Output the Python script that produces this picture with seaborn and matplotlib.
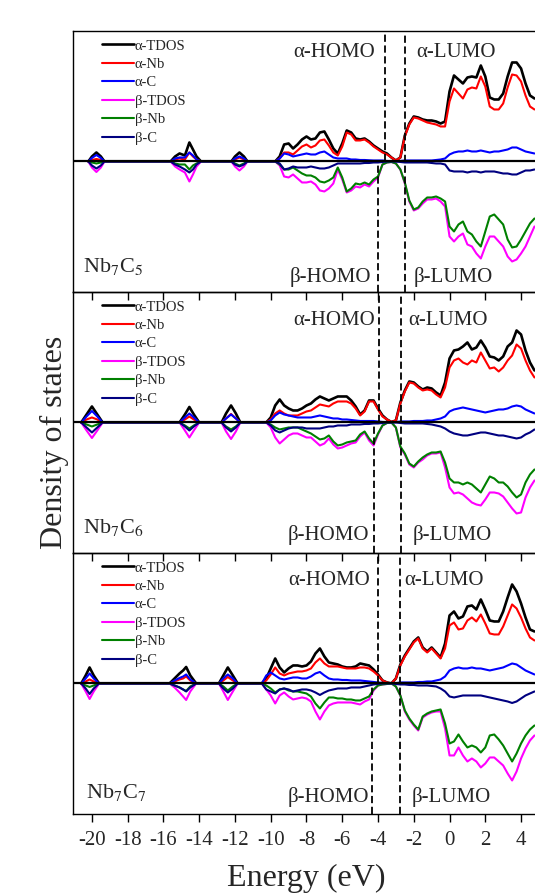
import numpy as np
import pandas as pd
import matplotlib
matplotlib.use("Agg")
import matplotlib.pyplot as plt
import seaborn as sns

# energy grid of the valence/conduction band (eV), the same for the three systems
band_e = np.linspace(-10.5, 4.75, 62)

# energies of the isolated low-lying peaks, one list per system
peak_e1 = [-20.2, -20.0, -19.75, -19.5, -19.3,
           -15.6, -15.35, -15.1, -14.8, -14.55, -14.35, -14.15, -13.9,
           -12.2, -12.0, -11.75, -11.5, -11.3]
peak_e2 = [-20.6, -20.3, -20.0, -19.7, -19.4,
           -15.1, -14.8, -14.55, -14.3, -14.0,
           -12.75, -12.5, -12.22, -11.95, -11.7]
peak_e3 = [-20.6, -20.35, -20.13, -19.9, -19.6,
           -15.66, -15.38, -15.1, -14.9, -14.73, -14.5, -14.17,
           -12.9, -12.65, -12.4, -12.12, -11.85]

# ---- Nb7C5 ----
a_tdos_1 = [0, 5, 9, 5, 0, 0, 5, 8, 6, 19, 12, 5, 0, 0, 5, 9, 5, 0,
            0, 0, 0, 0, 5, 17, 18, 13, 17, 22,
            25, 22, 23, 29, 30, 22, 13, 8, 18, 31,
            29, 23, 22, 23, 20, 16, 13, 10, 8, 4,
            1, 4, 26, 38, 45, 44, 42, 41, 41, 40,
            38, 40, 70, 86, 82, 78, 84, 85, 84, 96,
            85, 64, 62, 62, 68, 85, 99, 99, 93, 78,
            66, 63]
a_nb_1 = [0, 1.5, 2.5, 1.5, 0, 0, 2, 3, 2, 9, 5, 2, 0, 0, 2, 4, 2, 0,
          0, 0, 0, 0, 3, 9, 9, 7, 11, 15,
          17, 14, 16, 21, 22, 16, 9, 6, 15, 29,
          27, 21, 21, 22, 19, 15, 12, 9, 7, 4,
          1, 4, 25, 37, 44, 43, 41, 39, 38, 37,
          35, 35, 60, 73, 68, 63, 72, 74, 73, 85,
          75, 55, 52, 52, 58, 74, 87, 86, 80, 66,
          55, 52]
a_c_1 = [0, 3.5, 6.5, 3.5, 0, 0, 3, 4, 4, 9, 6, 2, 0, 0, 3, 5, 3, 0,
         0, 0, 0, 0, 3, 8, 7, 5, 6, 7,
         8, 7, 7, 9, 10, 7, 4, 3, 3, 3,
         2, 2, 1.5, 1.5, 1.2, 1, 1, 1, 0.5, 0.3,
         0, 0.5, 1, 1, 1, 1, 1, 1, 1, 1.5,
         2, 3, 7, 9, 10, 10, 11, 10, 10, 11,
         10, 9, 10, 10, 11, 12, 14, 14, 12, 10,
         9, 8]
b_tdos_1 = [0, -6, -10.5, -6, 0, 0, -5, -8, -11, -20, -13, -5, 0, 0, -5, -9, -5, 0,
            0, 0, 0, 0, -4, -15, -16, -13, -17, -21,
            -21, -20, -23, -29, -30, -27, -22, -8, -18, -31,
            -29, -25, -26, -23, -25, -20, -16, -3, -1, -0.5,
            -2, -8, -22, -40, -49, -47, -42, -38, -38, -37,
            -40, -45, -75, -80, -75, -72, -83, -85, -92, -97,
            -85, -75, -75, -80, -85, -95, -100, -98, -92, -85,
            -75, -65]
b_nb_1 = [0, -1, -2, -1, 0, 0, -2, -3, -3, -8, -4, -2, 0, 0, -2, -4, -2, 0,
          0, 0, 0, 0, -3, -8, -8, -6, -9, -12,
          -14, -14, -16, -20, -21, -19, -16, -6, -16, -30,
          -27, -22, -23, -21, -23, -18, -15, -3, -1, -0.5,
          -2, -8, -21, -39, -48, -46, -40, -36, -36, -35,
          -37, -40, -65, -70, -63, -60, -70, -73, -80, -85,
          -70, -55, -53, -58, -63, -78, -86, -85, -78, -70,
          -62, -57]
b_c_1 = [0, -4, -7, -4, 0, 0, -3, -5, -8, -11, -8, -3, 0, 0, -3, -5, -3, 0,
         0, 0, 0, 0, -2, -8, -7, -5, -6, -6,
         -6, -5, -6, -7, -7, -6, -4, -2, -2, -2,
         -2, -2, -2, -1.5, -1.5, -1, -1, -0.5, 0, 0,
         0, -0.5, -1, -1, -1, -1, -1, -1, -1.5, -2,
         -2, -3, -9, -10, -10, -10, -11, -10, -10, -11,
         -10, -10, -10, -11, -12, -12, -13, -13, -11, -9,
         -9, -8]

# ---- Nb7C6 ----
a_tdos_2 = [0, 8, 16, 8, 0, 0, 8, 15.5, 8, 0, 0, 9, 17, 9, 0,
            0, 0, 5, 17, 23, 17, 14, 12, 12, 14,
            17, 19, 23, 26, 24, 22, 24, 26, 26, 26,
            22, 16, 8, 12, 22, 22, 14, 7, 3, 0.5,
            2, 20, 32, 41, 40, 36, 33, 35, 34, 30,
            27, 40, 64, 72, 73, 76, 80, 73, 75, 82,
            75, 66, 65, 62, 66, 76, 80, 92, 88, 72,
            60, 52]
a_nb_2 = [0, 3, 5, 3, 0, 0, 3, 6, 3, 0, 0, 4, 8.5, 4, 0,
          0, 0, 3, 9, 12, 9, 7, 7, 7, 9,
          11, 12, 15, 18, 17, 16, 19, 21, 21, 21,
          19, 14, 7, 11, 21, 21, 13, 6, 3, 0.5,
          2, 19, 31, 40, 39, 35, 32, 33, 32, 28,
          25, 35, 55, 62, 64, 60, 58, 62, 60, 70,
          62, 54, 55, 51, 55, 62, 67, 78, 74, 62,
          52, 45]
a_c_2 = [0, 6, 11.5, 6, 0, 0, 5, 9, 5, 0, 0, 4, 8, 4, 0,
         0, 0, 2, 7, 10, 8, 7, 6, 5, 5,
         5, 5, 6, 7, 6, 5, 4, 4, 3, 3,
         2.5, 2, 1.5, 1.5, 1.5, 1.5, 1, 0.5, 0.3, 0,
         0.3, 1, 1, 1, 1.5, 1.5, 1.5, 2, 2, 3,
         4, 6, 11, 13, 14, 15, 14, 13, 12, 11,
         10, 11, 12, 13, 13, 14, 16, 17, 16, 13,
         11, 9]
b_tdos_2 = [0, -8, -15.5, -8, 0, 0, -8, -15, -8, 0, 0, -9, -16.5, -9, 0,
            0, 0, -5, -15, -21, -17, -13, -11, -11, -13,
            -15, -15, -19, -23, -21, -16, -22, -26, -25, -23,
            -21, -20, -14, -10, -18, -23, -12, -3, -0.5, 0,
            -5, -25, -32, -42, -45, -40, -37, -33, -31, -31,
            -30, -45, -65, -71, -70, -72, -76, -80, -82, -83,
            -77, -70, -70, -71, -74, -80, -86, -91, -90, -75,
            -65, -58]
b_nb_2 = [0, -2, -4, -2, 0, 0, -3, -6, -3, 0, 0, -4, -7, -4, 0,
          0, 0, -2, -5, -7, -6, -5, -5, -5, -7,
          -9, -11, -14, -17, -16, -13, -19, -23, -22, -20,
          -19, -18, -12, -9, -16, -21, -11, -3, -0.5, 0,
          -5, -24, -31, -41, -44, -39, -35, -32, -30, -30,
          -29, -40, -56, -60, -60, -62, -60, -62, -66, -70,
          -62, -54, -56, -60, -60, -64, -70, -75, -72, -60,
          -52, -47]
b_c_2 = [0, -5, -10, -5, 0, 0, -4, -8, -4, 0, 0, -5, -9, -5, 0,
         0, 0, -3, -8, -10, -8, -6, -5, -5, -5,
         -6, -6, -6, -6, -5, -4, -4, -3, -3, -3,
         -2, -2, -2, -1.5, -1.5, -1, -1, -0.5, 0, 0,
         0, -0.5, -1, -1, -1, -1, -1, -1.5, -2, -3,
         -4, -6, -9, -11, -12, -13, -13, -12, -11, -10,
         -10, -11, -12, -13, -13, -14, -15, -16, -15, -12,
         -10, -7]

# ---- Nb7C7 ----
a_tdos_3 = [0, 8, 16, 8, 0, 0, 5, 10, 13, 16.5, 8, 0, 0, 8, 16, 8, 0,
            0, 5, 15, 25, 16, 11, 15, 18, 18, 17,
            18, 22, 30, 35, 27, 21, 20, 19, 17, 16,
            16, 17, 20, 19, 18, 14, 9, 3, 1, 0,
            5, 19, 28, 35, 42, 46, 36, 32, 36, 31,
            26, 40, 68, 72, 65, 67, 77, 78, 74, 84,
            74, 63, 62, 62, 72, 86, 99, 92, 80, 66,
            54, 52]
a_nb_3 = [0, 2, 4, 2, 0, 0, 2, 4, 5, 7, 3, 0, 0, 3, 6.5, 3, 0,
          0, 3, 9, 16, 10, 8, 10, 11, 12, 12,
          13, 15, 21, 25, 20, 17, 17, 17, 16, 15,
          15, 15, 16, 16, 15, 12, 8, 3, 1, 0,
          5, 18, 27, 34, 41, 45, 35, 31, 35, 30,
          25, 35, 58, 61, 54, 55, 63, 66, 62, 69,
          60, 50, 49, 49, 57, 68, 79, 75, 66, 55,
          46, 43]
a_c_3 = [0, 5, 10, 5, 0, 0, 3, 5.5, 7, 9, 4, 0, 0, 5, 9, 5, 0,
         0, 8, 11, 8, 5, 4, 5, 6, 6, 5,
         5, 7, 10, 11.5, 8, 5, 4, 4, 3.5, 3.5,
         3, 3, 3, 2.5, 2, 1.5, 1, 0.5, 0.3, 0,
         0.3, 1, 1, 1, 1, 1.5, 1.5, 2, 2, 3,
         4, 7, 13, 15, 16, 15, 15, 16, 15, 15,
         14, 13, 14, 15, 16, 18, 20, 19, 16, 13,
         11, 9]
b_tdos_3 = [0, -8, -15.5, -8, 0, 0, -4, -9, -13, -16.5, -8, 0, 0, -8, -16.5, -8, 0,
            0, -6, -12, -20, -12, -9, -13, -16, -15, -14,
            -15, -18, -28, -36, -28, -22, -20, -19, -19, -19,
            -19, -20, -21, -18, -16, -7, -2, -1, -0.5, 0,
            -3, -12, -28, -36, -42, -47, -34, -31, -29, -28,
            -28, -45, -72, -72, -64, -72, -78, -75, -78, -84,
            -80, -74, -74, -78, -82, -90, -97, -88, -75, -65,
            -57, -52]
b_nb_3 = [0, -2, -3.5, -2, 0, 0, -2, -4, -6, -7.5, -3, 0, 0, -3, -7, -3, 0,
          0, -2, -5, -9, -6, -5, -7, -8, -8, -9,
          -10, -13, -20, -25, -19, -14, -14, -15, -15, -16,
          -16, -17, -17, -15, -13, -6, -2, -1, -0.5, 0,
          -3, -12, -27, -35, -41, -46, -33, -30, -28, -27,
          -26, -40, -60, -58, -51, -58, -64, -62, -64, -69,
          -64, -52, -51, -56, -62, -70, -78, -70, -60, -52,
          -46, -42]
b_c_3 = [0, -5, -10.5, -5, 0, 0, -2, -4, -6, -8, -4, 0, 0, -5, -9, -5, 0,
         0, -6, -8, -10, -6, -5, -6, -8, -7, -6,
         -6, -7, -9, -11.5, -9, -7, -6, -5, -5, -5,
         -4, -4, -4, -3, -2, -1, -0.5, 0, 0, 0,
         -0.5, -1, -1, -1.5, -1.5, -2, -2, -2, -2.5, -3,
         -5, -8, -13, -14, -13, -12, -12, -12, -12, -12,
         -13, -14, -15, -16, -17, -18, -19.5, -18, -15, -12,
         -10, -8]

systems = ["Nb$_7$C$_5$", "Nb$_7$C$_6$", "Nb$_7$C$_7$"]
homo_a = [-3.63, -3.97, -4.00]
homo_b = [-4.02, -4.23, -4.32]
lumo = [-2.51, -2.70, -2.79]
series_names = ["α-TDOS", "α-Nb", "α-C", "β-TDOS", "β-Nb", "β-C"]
series_colors = ["black", "red", "blue", "magenta", "green", "navy"]

panels = [
    (peak_e1, [a_tdos_1, a_nb_1, a_c_1, b_tdos_1, b_nb_1, b_c_1]),
    (peak_e2, [a_tdos_2, a_nb_2, a_c_2, b_tdos_2, b_nb_2, b_c_2]),
    (peak_e3, [a_tdos_3, a_nb_3, a_c_3, b_tdos_3, b_nb_3, b_c_3]),
]

# label placement (x in eV, y in axes fraction)
top_y = [0.918, 0.892, 0.896]
bot_y = [0.057, 0.069, 0.065]
a_homo_x = [-4.19, -4.19, -4.47]
a_lumo_x = [-1.86, -2.33, -2.51]
b_homo_x = [-4.37, -4.47, -4.47]
b_lumo_x = [-2.00, -2.05, -2.14]
name_x = [0.022, 0.022, 0.028]
name_y = [0.077, 0.077, 0.061]

sns.set_style("ticks")
plt.rcParams["font.family"] = ["Liberation Serif", "DejaVu Serif"]
plt.rcParams["mathtext.fontset"] = "stix"
plt.rcParams["axes.unicode_minus"] = False

fig, axes = plt.subplots(3, 1, figsize=(5.35, 8.93), dpi=100, sharex=True,
                         gridspec_kw={"hspace": 0})
fig.subplots_adjust(left=0.1364, right=1.0, top=0.9653, bottom=0.0885)

for i, (ax, (pe, series)) in enumerate(zip(axes, panels)):
    energy = list(pe) + list(band_e)
    frames = []
    for name, vals in zip(series_names, series):
        assert len(vals) == len(energy), (i, name, len(vals), len(energy))
        frames.append(pd.DataFrame({"energy": energy, "dos": vals, "series": name}))
    df = pd.concat(frames, ignore_index=True)
    for name, col in zip(series_names, series_colors):
        sub = df[df["series"] == name]
        sns.lineplot(data=sub, x="energy", y="dos", color=col, label=name,
                     lw=1.9 if name == "α-TDOS" else 1.5,
                     estimator=None, sort=False, ax=ax)

    ax.axhline(0, color="black", lw=1.6, zorder=5)
    dash = dict(color="black", lw=1.3, ls=(0, (4, 2)), zorder=6)
    ax.axvline(homo_a[i], ymin=0.5, ymax=1, **dash)
    ax.axvline(homo_b[i], ymin=0, ymax=0.5, **dash)
    ax.axvline(lumo[i], ymin=0, ymax=1, **dash)

    ax.text(a_homo_x[i], top_y[i], "α-HOMO", ha="right", va="center", fontsize=15,
            transform=ax.get_xaxis_transform())
    ax.text(a_lumo_x[i], top_y[i], "α-LUMO", ha="left", va="center", fontsize=15,
            transform=ax.get_xaxis_transform())
    ax.text(b_homo_x[i], bot_y[i], "β-HOMO", ha="right", va="center", fontsize=15,
            transform=ax.get_xaxis_transform())
    ax.text(b_lumo_x[i], bot_y[i], "β-LUMO", ha="left", va="center", fontsize=15,
            transform=ax.get_xaxis_transform())
    ax.text(name_x[i], name_y[i], systems[i], ha="left", va="baseline", fontsize=16,
            transform=ax.transAxes)

    ax.legend(loc="upper left", bbox_to_anchor=(0.063, 0.968), borderaxespad=0,
              borderpad=0, frameon=False, fontsize=10.5, handlelength=2.2,
              handletextpad=0.05, labelspacing=0.36)

    ax.set_xlim(-21.06, 4.78)
    ax.set_ylim(-130.5, 130.5)
    ax.set_yticks([])
    ax.set_xticks(range(-20, 5, 2))
    ax.set(xlabel="", ylabel="")
    ax.set_facecolor("none")
    ax.spines["right"].set_visible(False)
    for s in ("left", "top", "bottom"):
        ax.spines[s].set_linewidth(1.0)
        ax.spines[s].set_color("black")
    ax.tick_params(axis="x", direction="out", length=6, width=1.0, top=False,
                   labelsize=15, pad=6, color="black")

fig.text(54 / 535, 1 - 442 / 893, "Density of states", rotation=90,
         ha="center", va="center", fontsize=23)
fig.text(306 / 535, 1 - 878 / 893, "Energy (eV)", ha="center", va="center",
         fontsize=23)

fig.savefig("out.png", dpi=100, facecolor="white")
